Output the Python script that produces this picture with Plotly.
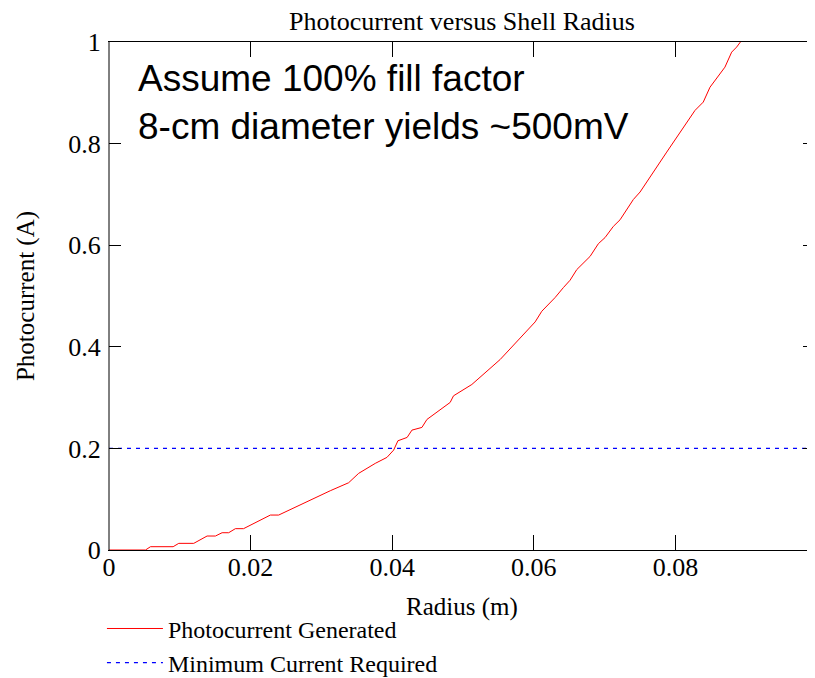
import plotly.graph_objects as go

# Data
radius_m = [0, 0.00515, 0.00586, 0.00906, 0.00985, 0.01197, 0.01385, 0.01503,
            0.01597, 0.0169, 0.01785, 0.0190, 0.02279, 0.02396, 0.03125, 0.03384,
            0.03525, 0.0376, 0.03925, 0.0402, 0.0408, 0.0421, 0.04278, 0.04419,
            0.0449, 0.04607, 0.04677, 0.04818, 0.04865, 0.05006, 0.05124, 0.05524,
            0.06018, 0.06112, 0.063, 0.06417, 0.06511, 0.06606, 0.06794, 0.06911,
            0.07005, 0.07122, 0.07217, 0.07405, 0.075, 0.07876, 0.08275, 0.08392,
            0.08487, 0.08698, 0.08793, 0.08863, 0.0892, 0.0896]
photocurrent_a = [0, 0, 0.0065, 0.0065, 0.0131, 0.0131, 0.0275, 0.0275,
                  0.034, 0.034, 0.042, 0.042, 0.0688, 0.0688, 0.1167, 0.1324,
                  0.1508, 0.1705, 0.1823, 0.1967, 0.215, 0.2216, 0.236, 0.2413,
                  0.257, 0.2688, 0.2767, 0.2905, 0.3035, 0.3166, 0.3258, 0.375,
                  0.449, 0.47, 0.497, 0.5166, 0.531, 0.552, 0.578, 0.603,
                  0.615, 0.637, 0.650, 0.690, 0.7047, 0.7833, 0.8653, 0.8817,
                  0.911, 0.9505, 0.98, 0.99, 1.0, 1.008]
min_current_x = [0, 0.1]
min_current_y = [0.2, 0.2]

x_tickvals = [0, 0.02, 0.04, 0.06, 0.08]
x_ticktext = ["0", "0.02", "0.04", "0.06", "0.08"]
y_tickvals = [0, 0.2, 0.4, 0.6, 0.8, 1.0]
y_ticktext = ["0", "0.2", "0.4", "0.6", "0.8", "1"]

SERIF = "Liberation Serif, Times New Roman, serif"
SANS = "Liberation Sans, Arial, sans-serif"

# the page body adds an 8px offset, so the figure is 8px smaller on each axis
W, H = 807, 670
ML, MT, MB, MR = 100.5, 33.5, 128, 0
PW = W - ML - MR
PH = H - MT - MB

fig = go.Figure()
fig.add_trace(go.Scatter(x=radius_m, y=photocurrent_a, mode="lines",
                         name="Photocurrent Generated",
                         line=dict(color="#ff0000", width=1)))
fig.add_trace(go.Scatter(x=min_current_x, y=min_current_y, mode="lines",
                         name="Minimum Current Required",
                         line=dict(color="#0000ff", width=1.2, dash="4px,5px")))

fig.update_layout(
    width=W, height=H, autosize=False,
    margin=dict(l=ML, r=MR, t=MT, b=MB, autoexpand=False),
    paper_bgcolor="white", plot_bgcolor="white",
    font=dict(family=SERIF, size=24, color="black"),
    title=dict(text="Photocurrent versus Shell Radius", x=0.5, xref="paper",
               y=1 - 13 / H, yref="container", yanchor="middle",
               xanchor="center", font=dict(family=SERIF, size=26, color="black")),
    showlegend=True,
    legend=dict(orientation="v", x=-0.010, y=-0.111, xanchor="left", yanchor="top",
                font=dict(family=SERIF, size=24, color="black"),
                bgcolor="rgba(0,0,0,0)", itemwidth=56, tracegroupgap=0),
    shapes=[dict(type="line", xref="paper", yref="paper", x0=0, x1=0, y0=0, y1=1,
                 line=dict(color="black", width=1), layer="above")],
)
fig.update_xaxes(range=[0, 0.0997], tickmode="array", tickvals=x_tickvals,
                 ticktext=x_ticktext, ticks="inside", ticklen=15, tickcolor="black",
                 showline=True, linecolor="black", linewidth=1, mirror="allticks",
                 showgrid=False, zeroline=False, ticklabelstandoff=-6, automargin=False,
                 tickfont=dict(family=SERIF, size=26, color="black"),
                 title=dict(text="Radius (m)", standoff=16,
                            font=dict(family=SERIF, size=25, color="black")))
fig.update_yaxes(range=[0, 1], tickmode="array", tickvals=y_tickvals,
                 ticktext=y_ticktext, ticks="inside", ticklen=12, tickcolor="black",
                 showline=True, linecolor="rgba(0,0,0,0)", linewidth=1, mirror="allticks",
                 showgrid=False, zeroline=False, ticklabelstandoff=2, automargin=False,
                 tickfont=dict(family=SERIF, size=26, color="black"),
                 title=dict(text="Photocurrent (A)", standoff=26,
                            font=dict(family=SERIF, size=25, color="black")))

fig.add_annotation(text="Assume 100% fill factor<br>8-cm diameter yields ~500mV",
                   xref="paper", yref="paper",
                   x=(128 - ML) / PW, y=(PH - 14) / PH,
                   xanchor="left", yanchor="top", align="left", showarrow=False,
                   font=dict(family=SANS, size=37, color="black"))

fig.write_html("out.html", config={"responsive": False})
